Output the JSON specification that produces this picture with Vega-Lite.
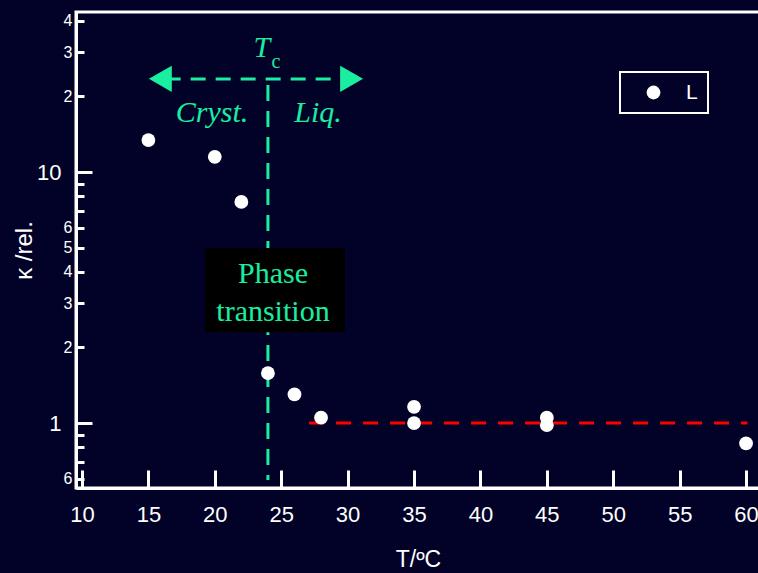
{
  "$schema": "https://vega.github.io/schema/vega-lite/v6.json",
  "width": 684,
  "height": 476,
  "autosize": "none",
  "padding": {"left": 76, "top": 12, "right": 0, "bottom": 85},
  "background": "#020228",
  "config": {
    "view": {"stroke": "white", "strokeWidth": 3},
    "legend": {"strokeColor": "white", "strokeWidth": 2},
    "axis": {"domainColor": "white", "domainWidth": 3, "tickColor": "white", "tickWidth": 3, "labelColor": "white", "titleColor": "white", "grid": false, "labelFont": "Liberation Sans", "titleFont": "Liberation Sans", "titleFontWeight": "normal"}
  },
  "encoding": {
    "x": {"field": "x", "type": "quantitative", "scale": {"domain": [9.55, 61.05], "nice": false, "zero": false},
      "axis": {"values": [10,15,20,25,30,35,40,45,50,55,60], "tickSize": -18, "labelFontSize": 22, "labelPadding": 34, "title": "T/ºC", "titleFontSize": 23, "titlePadding": 23}},
    "y": {"field": "y", "type": "quantitative", "scale": {"type": "log", "domain": [0.551, 43.4], "nice": false},
      "axis": {"values": [0.6,0.7,0.8,0.9,1,2,3,4,5,6,7,8,9,10,20,30,40],
        "labelExpr": "datum.value == 10 ? '10' : datum.value == 1 ? '1' : datum.value >= 20 ? format(datum.value/10, 'd') : (datum.value >= 2 && datum.value <= 6) ? format(datum.value, 'd') : datum.value == 0.6 ? '6' : ''",
        "tickSize": {"condition": {"test": "datum.value == 1 || datum.value == 10", "value": -16}, "value": -8},
        "labelFontSize": {"condition": {"test": "datum.value == 1 || datum.value == 10", "value": 22}, "value": 16},
        "labelPadding": {"condition": {"test": "datum.value == 1 || datum.value == 10", "value": 31}, "value": 12},
        "title": "κ /rel.", "titleFontSize": 24, "titlePadding": 0}}
  },
  "layer": [
    {
      "data": {"values": [{"x": 24, "y": 22.2}, {"x": 24, "y": 0.593}]},
      "mark": {"type": "line", "color": "#1aeea0", "strokeWidth": 3, "strokeDash": [16, 10]}
    },
    {
      "data": {"values": [{"x": 19.26, "y": 4.98, "x2": 29.8, "y2": 2.30}]},
      "mark": {"type": "rect", "color": "black"},
      "encoding": {"x2": {"field": "x2"}, "y2": {"field": "y2"}}
    },
    {
      "data": {"values": [{"x": 16.3, "y": 23.5}, {"x": 29.8, "y": 23.5}]},
      "mark": {"type": "line", "color": "#1aeea0", "strokeWidth": 3, "strokeDash": [15, 10]}
    },
    {
      "data": {"values": [{"x": 15.9, "y": 23.5, "shape": "triangle-left"}, {"x": 30.3, "y": 23.5, "shape": "triangle-right"}]},
      "mark": {"type": "point", "filled": true, "color": "#1aeea0", "opacity": 1, "size": 700},
      "encoding": {"shape": {"field": "shape", "type": "nominal", "scale": null}}
    },
    {
      "data": {"values": [{"x": 27.1, "y": 1}, {"x": 60.1, "y": 1}]},
      "mark": {"type": "line", "color": "#ff0000", "strokeWidth": 3, "strokeDash": [15, 12]}
    },
    {
      "data": {"values": [
        {"x": 15, "y": 13.4, "s": "L"},
        {"x": 20, "y": 11.5, "s": "L"},
        {"x": 22, "y": 7.6, "s": "L"},
        {"x": 24, "y": 1.58, "s": "L"},
        {"x": 26, "y": 1.30, "s": "L"},
        {"x": 28, "y": 1.05, "s": "L"},
        {"x": 35, "y": 1.16, "s": "L"},
        {"x": 35, "y": 1.0, "s": "L"},
        {"x": 45, "y": 1.05, "s": "L"},
        {"x": 45, "y": 0.98, "s": "L"},
        {"x": 60, "y": 0.83, "s": "L"}
      ]},
      "mark": {"type": "point", "filled": true, "opacity": 1, "size": 190, "shape": "circle"},
      "encoding": {
        "color": {"field": "s", "type": "nominal", "scale": {"range": ["white"]},
          "legend": {"title": null, "orient": "none", "legendX": 544, "legendY": 60, "strokeColor": "white", "padding": 10, "symbolOffset": 13, "labelOffset": 22, "labelFontSize": 21, "labelColor": "white", "labelFont": "Liberation Sans", "symbolSize": 190, "symbolType": "circle", "symbolStrokeWidth": 0}}
      }
    },
    {
      "data": {"values": [
        {"x": 24.38, "y": 3.92, "t": "Phase"},
        {"x": 24.38, "y": 2.77, "t": "transition"}
      ]},
      "mark": {"type": "text", "font": "Liberation Serif", "fontSize": 30, "color": "#1aeea0", "baseline": "middle", "align": "center"},
      "encoding": {"text": {"field": "t"}}
    },
    {
      "data": {"values": [
        {"x": 19.79, "y": 17.2, "t": "Cryst."},
        {"x": 27.77, "y": 17.2, "t": "Liq."},
        {"x": 23.55, "y": 31.2, "t": "T"}
      ]},
      "mark": {"type": "text", "font": "Liberation Serif", "fontSize": 30, "fontStyle": "italic", "color": "#1aeea0", "baseline": "middle", "align": "center"},
      "encoding": {"text": {"field": "t"}}
    },
    {
      "data": {"values": [{"x": 24.6, "y": 27.4, "t": "c"}]},
      "mark": {"type": "text", "font": "Liberation Serif", "fontSize": 20, "color": "#1aeea0", "baseline": "middle", "align": "center"},
      "encoding": {"text": {"field": "t"}}
    }
  ]
}
